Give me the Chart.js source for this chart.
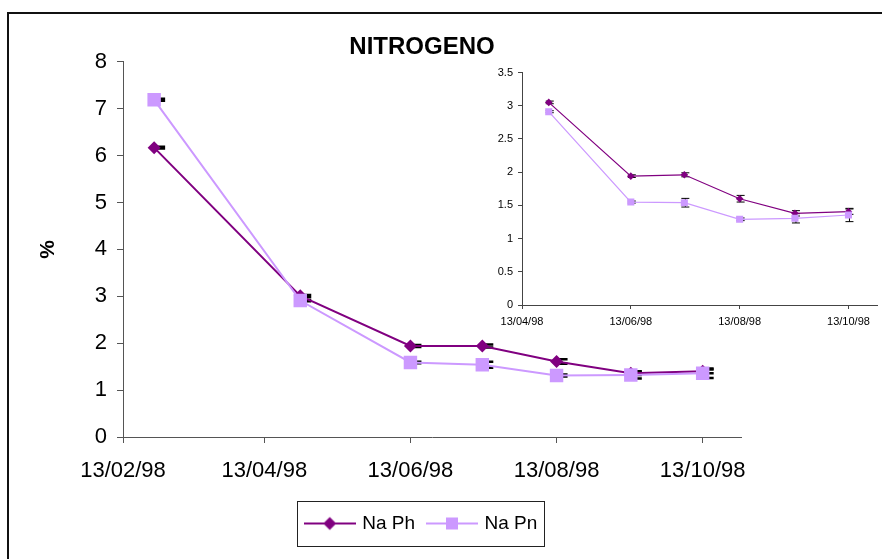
<!DOCTYPE html>
<html><head><meta charset="utf-8">
<script src="https://cdn.jsdelivr.net/npm/chart.js@4/dist/chart.umd.min.js"></script>
<style>
html,body{margin:0;padding:0;background:#fff;}
#wrap{position:relative;width:882px;height:559px;overflow:hidden;background:#fff;}
#frame{position:absolute;left:7px;top:12px;width:900px;height:600px;border-left:2px solid #111;border-top:2px solid #111;}
#main{position:absolute;left:0;top:0;}
#inset{position:absolute;left:470px;top:60px;}
</style></head><body>
<div id="wrap">
<div id="frame"></div>
<canvas id="main" width="844" height="559"></canvas>
<canvas id="inset" width="412" height="275"></canvas>
</div>
<script>
// ---- data (days counted from 13/02/98) ----
const tickDays = [0, 59, 120, 181, 242];
const tickLabels = ['13/02/98', '13/04/98', '13/06/98', '13/08/98', '13/10/98'];
const sampleDays = [13, 74, 120, 150, 181, 212, 242];
const naPh = [6.17, 3.01, 1.94, 1.94, 1.61, 1.36, 1.40];
const naPn = [7.19, 2.91, 1.59, 1.54, 1.31, 1.32, 1.36];
const errPh = [0.02, 0.02, 0.02, 0.03, 0.05, 0.04, 0.04];
const errPn = [0.02, 0.015, 0.015, 0.065, 0.02, 0.07, 0.10];
const mainYTicks = [0, 1, 2, 3, 4, 5, 6, 7, 8];

const insetTickDays = [59, 120, 181, 242];
const insetTickLabels = ['13/04/98', '13/06/98', '13/08/98', '13/10/98'];
const insetDays = [74, 120, 150, 181, 212, 242];
const insetPh = [3.05, 1.94, 1.96, 1.60, 1.38, 1.405];
const insetPn = [2.91, 1.55, 1.54, 1.29, 1.305, 1.355];
const insetErrPh = [0.02, 0.02, 0.03, 0.05, 0.04, 0.04];
const insetErrPn = [0.015, 0.015, 0.065, 0.02, 0.07, 0.10];
const insetYTicks = [0, 0.5, 1, 1.5, 2, 2.5, 3, 3.5];
const insetYLabels = ['0', '0.5', '1', '1.5', '2', '2.5', '3', '3.5'];

const seriesNames = ['Na Ph', 'Na Pn'];
const colPh = '#800080', colPn = '#CC99FF';
const F = '"Liberation Sans", Arial, sans-serif';

const pts = (xs, ys) => xs.map((x, i) => ({x: x, y: ys[i]}));

// error bars plugin
const errBars = {
  id: 'errBars',
  beforeDatasetsDraw(chart, args, o) {
    const ctx = chart.ctx, ys = chart.scales.y;
    ctx.save();
    ctx.strokeStyle = '#000';
    ctx.lineWidth = o.lw;
    chart.data.datasets.forEach((ds, i) => {
      const meta = chart.getDatasetMeta(i);
      meta.data.forEach((pt, j) => {
        const v = ds.data[j].y, e = o.errs[i][j];
        const y1 = ys.getPixelForValue(v + e), y2 = ys.getPixelForValue(v - e);
        const x = pt.x;
        ctx.beginPath();
        if (o.vline) { ctx.moveTo(x + o.vx, y1); ctx.lineTo(x + o.vx, y2); }
        ctx.moveTo(x + o.c0, y1); ctx.lineTo(x + o.c1, y1);
        ctx.moveTo(x + o.c0, y2); ctx.lineTo(x + o.c1, y2);
        ctx.stroke();
      });
    });
    ctx.restore();
  }
};

// legend frame plugin
const legendFrame = {
  id: 'legendFrame',
  afterDraw(chart) {
    const lg = chart.legend;
    if (!lg || !lg.legendHitBoxes || !lg.legendHitBoxes.length) return;
    const hb = lg.legendHitBoxes, last = hb[hb.length - 1];
    const l = Math.round(hb[0].left - 10), r = Math.round(last.left + last.width + 7);
    const cy = hb[0].top + hb[0].height / 2;
    const ctx = chart.ctx;
    ctx.save();
    ctx.strokeStyle = '#222';
    ctx.lineWidth = 1;
    ctx.strokeRect(l + 0.5, Math.round(cy - 22.5) + 0.5, r - l, 45);
    ctx.restore();
  }
};

function legendImg(color, kind) {
  const c = document.createElement('canvas');
  c.width = 52; c.height = 16;
  const g = c.getContext('2d');
  g.strokeStyle = color; g.lineWidth = 2;
  g.beginPath(); g.moveTo(0, 8); g.lineTo(52, 8); g.stroke();
  g.fillStyle = color;
  if (kind === 'diamond') {
    g.beginPath(); g.moveTo(19.5, 8); g.lineTo(26, 1.5); g.lineTo(32.5, 8); g.lineTo(26, 14.5); g.closePath(); g.fill();
  } else {
    g.fillRect(20, 2, 12, 12);
  }
  return c;
}
const legImgs = [legendImg(colPh, 'diamond'), legendImg(colPn, 'square')];

new Chart(document.getElementById('main'), {
  type: 'line',
  data: {
    datasets: [
      {label: seriesNames[0], data: pts(sampleDays, naPh), order: 1,
       borderColor: colPh, backgroundColor: colPh, borderWidth: 2,
       pointStyle: 'rectRot', pointRadius: 6.5, pointBorderWidth: 0, pointBackgroundColor: colPh},
      {label: seriesNames[1], data: pts(sampleDays, naPn), order: 0,
       borderColor: colPn, backgroundColor: colPn, borderWidth: 2,
       pointStyle: 'rect', pointRadius: 9.5, pointBorderWidth: 0, pointBackgroundColor: colPn}
    ]
  },
  options: {
    responsive: false, animation: false, events: [],
    layout: {padding: {left: 0, right: 0, top: 0, bottom: 16}},
    plugins: {
      tooltip: {enabled: false},
      title: {display: true, text: 'NITROGENO', color: '#000',
              font: {family: F, size: 24, weight: 'bold'}, padding: {top: 33, bottom: 0}},
      legend: {position: 'bottom',
        labels: {usePointStyle: true, pointStyleWidth: 46, color: '#000', padding: 14,
                 font: {family: F, size: 19},
                 generateLabels: () => seriesNames.map((n, i) => ({
                   text: n, pointStyle: legImgs[i], fillStyle: i ? colPn : colPh,
                   strokeStyle: i ? colPn : colPh, lineWidth: 0, hidden: false, datasetIndex: i, fontColor: '#000'}))}},
      errBars: {errs: [errPh, errPn], lw: 2.5, c0: -2, c1: 11, vline: false, vx: 0}
    },
    scales: {
      x: {type: 'linear', min: 0, max: 258,
        afterBuildTicks: s => { s.ticks = tickDays.map(v => ({value: v})); },
        afterFit: s => { s.height = 63; },
        ticks: {callback: (v, i) => tickLabels[i], color: '#000', font: {family: F, size: 22},
                padding: 15, maxRotation: 0, autoSkip: false},
        grid: {drawOnChartArea: false, drawTicks: true, tickLength: 6, color: '#555', lineWidth: 1},
        border: {display: true, color: '#555', width: 1}},
      y: {type: 'linear', min: 0, max: 8, position: 'left',
        afterBuildTicks: s => { s.ticks = mainYTicks.map(v => ({value: v})); },
        afterFit: s => { s.width = 123; },
        ticks: {callback: (v, i) => String(mainYTicks[i]), color: '#000', font: {family: F, size: 22}, padding: 10},
        grid: {drawOnChartArea: false, drawTicks: true, tickLength: 6, color: '#555', lineWidth: 1},
        border: {display: true, color: '#555', width: 1},
        title: {display: true, text: '%', color: '#000', font: {family: F, size: 21, weight: 'bold'},
                padding: {top: 36, bottom: 0}}},
      yR: {type: 'linear', position: 'right', display: true, min: 0, max: 8,
        afterFit: s => { s.width = 103; },
        ticks: {display: false}, grid: {display: false}, border: {display: false}}
    }
  },
  plugins: [errBars, legendFrame]
});

new Chart(document.getElementById('inset'), {
  type: 'line',
  data: {
    datasets: [
      {label: seriesNames[0], data: pts(insetDays, insetPh), order: 1,
       borderColor: colPh, backgroundColor: colPh, borderWidth: 1.2,
       pointStyle: 'rectRot', pointRadius: 3.8, pointBorderWidth: 0, pointBackgroundColor: colPh},
      {label: seriesNames[1], data: pts(insetDays, insetPn), order: 0,
       borderColor: colPn, backgroundColor: colPn, borderWidth: 1.2,
       pointStyle: 'rect', pointRadius: 5, pointBorderWidth: 0, pointBackgroundColor: colPn}
    ]
  },
  options: {
    responsive: false, animation: false, events: [],
    layout: {padding: {left: 0, right: 4, top: 12.5, bottom: 0}},
    plugins: {
      tooltip: {enabled: false}, legend: {display: false}, title: {display: false},
      errBars: {errs: [insetErrPh, insetErrPn], lw: 1, c0: -3, c1: 5, vline: true, vx: 1}
    },
    scales: {
      x: {type: 'linear', min: 59, max: 258,
        afterBuildTicks: s => { s.ticks = insetTickDays.map(v => ({value: v})); },
        afterFit: s => { s.height = 30; },
        ticks: {callback: (v, i) => insetTickLabels[i], color: '#000', font: {family: F, size: 11},
                padding: 6, maxRotation: 0, autoSkip: false},
        grid: {drawOnChartArea: false, drawTicks: true, tickLength: 4, color: '#444', lineWidth: 1},
        border: {display: true, color: '#444', width: 1}},
      y: {type: 'linear', min: 0, max: 3.5, position: 'left',
        afterBuildTicks: s => { s.ticks = insetYTicks.map(v => ({value: v})); },
        afterFit: s => { s.width = 52; },
        ticks: {callback: (v, i) => insetYLabels[i], color: '#000', font: {family: F, size: 11}, padding: 5},
        grid: {drawOnChartArea: false, drawTicks: true, tickLength: 4, color: '#444', lineWidth: 1},
        border: {display: true, color: '#444', width: 1}}
    }
  },
  plugins: [errBars]
});
</script>
</body></html>
